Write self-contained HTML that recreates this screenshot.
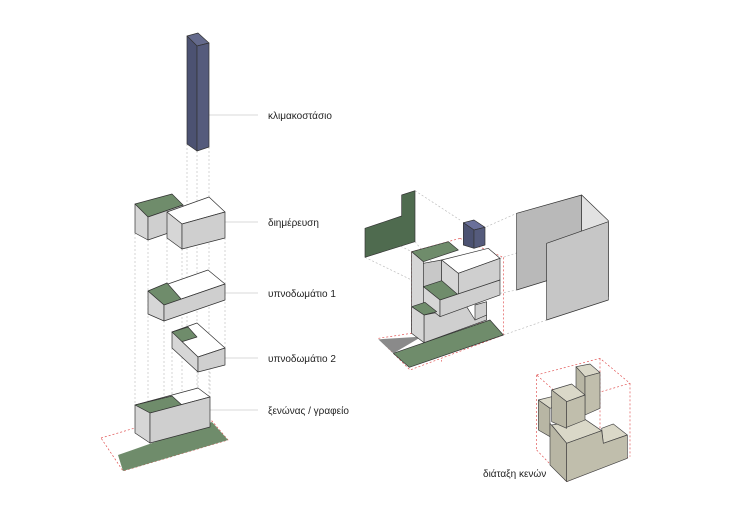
<!DOCTYPE html>
<html><head><meta charset="utf-8"><style>
html,body{margin:0;padding:0;background:#fff;}
svg{display:block;}
text{font-family:"Liberation Sans",sans-serif;font-size:10px;fill:#222;}
</style></head><body>
<svg width="730" height="516" viewBox="0 0 730 516" xmlns="http://www.w3.org/2000/svg">
<g stroke="#bbb" stroke-width="0.6" stroke-dasharray="2,2" fill="none">
<line x1="148" y1="240" x2="148" y2="440"/><line x1="164" y1="305" x2="164" y2="420"/>
<line x1="167" y1="238" x2="167" y2="290"/><line x1="172" y1="348" x2="172" y2="400"/>
<line x1="182" y1="249" x2="182" y2="410"/><line x1="187" y1="144" x2="187" y2="330"/>
<line x1="197" y1="151" x2="197" y2="390"/><line x1="198" y1="357" x2="198" y2="392"/>
<line x1="209" y1="147" x2="209" y2="400"/><line x1="225" y1="238" x2="225" y2="348"/>
<line x1="135" y1="233" x2="135" y2="405"/><line x1="210" y1="360" x2="210" y2="400"/>
</g>
<g stroke="#ccc" stroke-width="0.8">
<line x1="202" y1="115" x2="258" y2="115"/><line x1="215" y1="222" x2="258" y2="222"/>
<line x1="215" y1="293" x2="258" y2="293"/><line x1="215" y1="358" x2="258" y2="358"/>
<line x1="200" y1="410" x2="258" y2="410"/>
</g>
<text x="268" y="119">κλιμακοστάσιο</text>
<text x="268" y="226">διημέρευση</text>
<text x="268" y="297">υπνοδωμάτιο 1</text>
<text x="268" y="362">υπνοδωμάτιο 2</text>
<text x="268" y="414">ξενώνας / γραφείο</text>
<text x="483" y="477">διάταξη κενών</text>

<g stroke="#333" stroke-width="0.7" stroke-linejoin="round">
<polygon points="187,36 198,33 209,43 197,46" fill="#646a8c"/>
<polygon points="187,36 197,46 197,151 187,144" fill="#4c5272"/>
<polygon points="197,46 209,43 209,147 197,151" fill="#555b7c"/>
<polygon points="135,204 172,194 183,205 148,217" fill="#6f8c6b"/>
<polygon points="135,204 148,217 148,240 135,233" fill="#d6d6d6"/>
<polygon points="148,217 183,205 183,228 148,240" fill="#cfcfcf"/>
<polygon points="167,212 209,197 225,212 182,224" fill="#fff"/>
<polygon points="167,212 182,224 182,249 167,238" fill="#d6d6d6"/>
<polygon points="182,224 225,212 225,238 182,249" fill="#cfcfcf"/>
<polygon points="148,291 208,270 225,284 164,305" fill="#fff"/>
<polygon points="148,291 167,283 182,300 164,305" fill="#6f8c6b"/>
<polygon points="148,291 164,305 164,321 148,314" fill="#d6d6d6"/>
<polygon points="164,305 225,284 225,300 164,321" fill="#cfcfcf"/>
<polygon points="172,332 197,323 225,348 198,357" fill="#fff"/>
<polygon points="172,332 188,327 197,337 181,342" fill="#6f8c6b"/>
<polygon points="172,332 198,357 198,372 172,348" fill="#d6d6d6"/>
<polygon points="198,357 225,348 225,365 198,372" fill="#cfcfcf"/>
<polygon points="101,438 135,428 212,421 228,440 123,471" fill="#fff" stroke="#e05050" stroke-dasharray="2,2"/>
<polygon points="118,455 212,422 228,440 123,471" fill="#6f8c6b" stroke="none"/>
<polygon points="135,405 198,388 210,397 150,413" fill="#fff"/>
<polygon points="135,405 172,396 183,406 150,413" fill="#6f8c6b"/>
<polygon points="135,405 150,413 150,443 135,433" fill="#d6d6d6"/>
<polygon points="150,413 210,397 210,427 150,443" fill="#cfcfcf"/>
</g>

<g transform="translate(350,180) scale(0.33333)" stroke-linejoin="round">
<g stroke="#bbb" stroke-width="2" stroke-dasharray="6,6" fill="none">
<line x1="45" y1="145" x2="185" y2="215"/><line x1="45" y1="232" x2="185" y2="300"/>
<line x1="195" y1="32" x2="330" y2="120"/><line x1="195" y1="185" x2="290" y2="300"/>
<line x1="410" y1="140" x2="500" y2="100"/><line x1="450" y1="235" x2="590" y2="190"/>
<line x1="460" y1="465" x2="590" y2="420"/><line x1="450" y1="340" x2="500" y2="330"/>
</g>
<g stroke="#e05050" stroke-width="2" stroke-dasharray="6,6" fill="none">
<line x1="185" y1="215" x2="185" y2="520"/><line x1="460" y1="232" x2="460" y2="465"/>
<line x1="185" y1="215" x2="330" y2="175"/><line x1="330" y1="175" x2="460" y2="232"/>
<line x1="275" y1="240" x2="275" y2="545"/>
</g>
<g stroke="#333" stroke-width="2">
<polygon points="45,145 155,108 155,45 195,32 195,185 45,232" fill="#4f6b4f"/>
<polygon points="340,128 372,120 405,142 372,150" fill="#6a709a"/>
<polygon points="340,128 372,150 372,205 340,195" fill="#4c5272"/>
<polygon points="372,150 405,142 405,195 372,205" fill="#555b7c"/>
<polygon points="85,475 415,425 460,465 180,570" fill="#fff" stroke="#e05050" stroke-dasharray="6,6"/>
<polygon points="130,520 420,420 460,465 178,562" fill="#6f8c6b"/>
<polygon points="85,478 215,470 130,520" fill="#8a8a8a" stroke="none"/>
<polygon points="185,215 220,245 220,480 185,455" fill="#d6d6d6"/>
<polygon points="220,250 275,240 275,310 220,320" fill="#c8c8c8"/>
<polygon points="185,215 295,185 325,210 220,245" fill="#6f8c6b"/>
<polygon points="275,240 415,205 450,235 325,280" fill="#fff"/>
<polygon points="275,240 325,280 325,345 275,310" fill="#d6d6d6"/>
<polygon points="325,280 450,235 450,300 325,345" fill="#cfcfcf"/>
<polygon points="222,405 350,380 375,420 410,405 410,420 222,488" fill="#cfcfcf"/>
<polygon points="375,375 410,365 410,405 375,420" fill="#cfcfcf"/>
<polygon points="220,320 275,302 325,345 270,360" fill="#6f8c6b"/>
<polygon points="220,320 270,360 270,410 220,370" fill="#d6d6d6"/>
<polygon points="270,360 450,300 450,345 270,410" fill="#cfcfcf"/>
<polygon points="185,380 225,367 260,395 222,405" fill="#6f8c6b"/>
<polygon points="185,380 222,405 222,488 185,460" fill="#d6d6d6"/>
<polygon points="500,100 695,45 695,270 500,330" fill="#b9b9b9"/>
<polygon points="695,45 775,122 775,350 695,270" fill="#e2e2e2"/>
<polygon points="590,190 775,125 775,360 590,420" fill="#c6c6c6"/>
</g>
</g>

<g transform="translate(470,340) scale(0.33333)" stroke-linejoin="round">
<g stroke="#e05050" stroke-width="2" stroke-dasharray="6,6" fill="none">
<polygon points="200,105 390,55 480,130 290,185"/>
<line x1="200" y1="105" x2="200" y2="330"/><line x1="480" y1="130" x2="480" y2="350"/>
<line x1="290" y1="185" x2="290" y2="425"/><line x1="200" y1="330" x2="290" y2="425"/>
<line x1="290" y1="425" x2="480" y2="350"/><line x1="390" y1="55" x2="390" y2="270"/>
</g>
<g stroke="#444" stroke-width="2">
<polygon points="318,80 360,72 390,98 345,110" fill="#dad8c8"/>
<polygon points="318,80 345,110 345,225 318,200" fill="#b8b6a4"/>
<polygon points="345,110 390,98 390,205 345,225" fill="#c0beac"/>
<polygon points="205,180 245,170 275,195 240,205" fill="#dad8c8"/>
<polygon points="205,180 240,205 240,290 205,270" fill="#b8b6a4"/>
<polygon points="245,255 345,238 395,272 290,310" fill="#dad8c8"/>
<polygon points="395,265 430,252 472,285 400,310" fill="#dad8c8"/>
<polygon points="240,250 290,310 290,425 240,375" fill="#b8b6a4"/>
<polygon points="290,310 395,272 400,310 472,285 472,355 290,425" fill="#c0beac"/>
<polygon points="245,150 305,132 345,165 290,185" fill="#dad8c8"/>
<polygon points="245,150 290,185 290,265 245,245" fill="#b8b6a4"/>
<polygon points="290,185 345,165 345,240 290,262" fill="#c0beac"/>
</g>
</g>
</svg>
</body></html>
